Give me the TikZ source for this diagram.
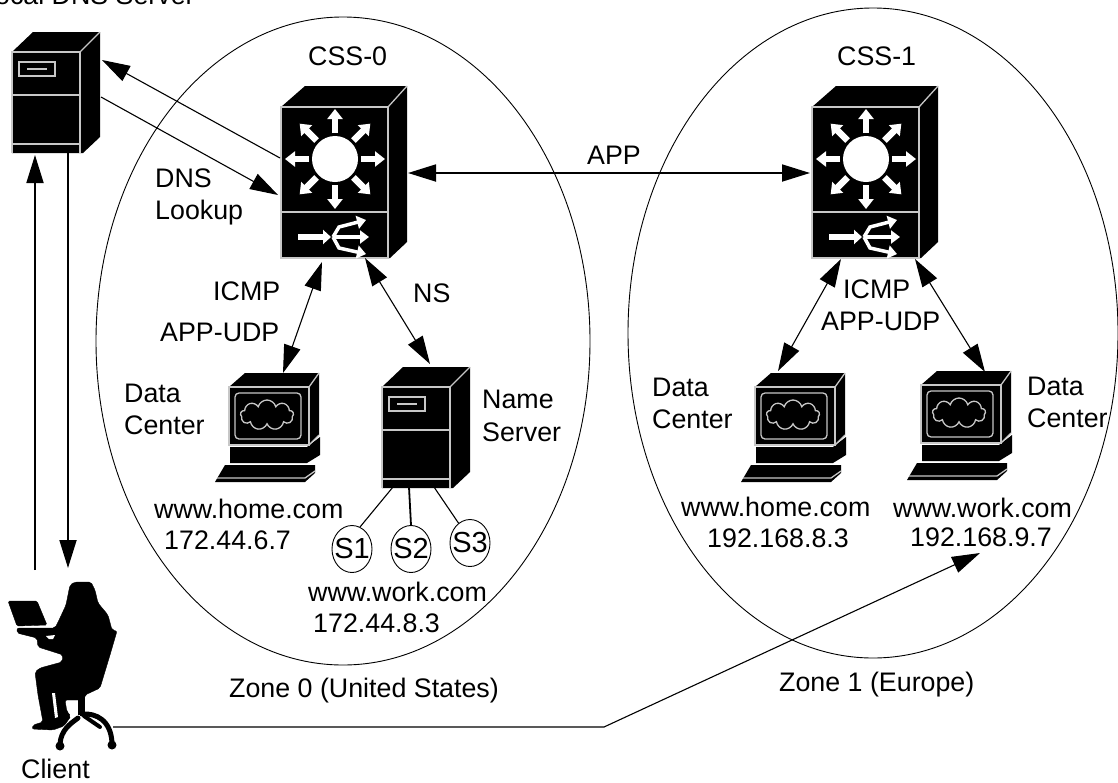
\documentclass[tikz,border=0pt]{standalone}
\usepackage{fontspec}
\setmainfont{Liberation Sans}
\usepackage{tikz}
\usetikzlibrary{arrows.meta}
\usetikzlibrary{shapes.geometric}
\usetikzlibrary{shapes.symbols}
\tikzset{
  lbl/.style={anchor=base west, inner sep=0pt, font=\fontsize{26.8}{30}\selectfont},
  iconline/.style={draw=black!22, line width=1.3pt},
  iconfill/.style={fill=black},
  zone/.style={draw, ellipse, line width=.9pt, inner sep=0pt},
  disk/.style={draw, ellipse, line width=.9pt, inner sep=0pt, minimum width=40pt, minimum height=47pt, font=\fontsize{29}{30}\selectfont},
  bigtip/.tip={Triangle[length=28pt,width=17pt]},
  conn/.style={line width=1.1pt},
  connthick/.style={line width=1.8pt},
  serverpic/.pic={
    \fill [iconfill] (0,0) -- (21,-20) -- (88,-20) -- (88,85) -- (71,101) -- (0,101) -- cycle;
    \draw [iconline] (0,101) -- (0,0) -- (68,0) -- (68,101);
    \draw [iconline] (68,0) -- (88,-20);
    \draw [iconline] (0,43) -- (68,43);
    \draw [iconline] (0,92) -- (68,92);
    \draw [iconline] (7,10) rectangle (43,24);
    \draw [iconline] (15,17) -- (35,17);
  },
  switchpic/.pic={
    \fill [iconfill] (0,0) -- (24,-21) -- (126,-21) -- (126,135) -- (109,151) -- (0,151) -- cycle;
    \draw [iconline] (0,0) rectangle (107,151);
    \draw [iconline] (107,0) -- (126,-21);
    \draw [iconline] (0,105) -- (107,105);
    \fill [white] (54,52) circle [radius=23];
    \foreach \a in {0,45,...,315}
      \draw [white, line width=6.5pt, -{Triangle[length=10pt,width=15pt]}, shift={(54,52)}] (\a:26) -- (\a:50);
    \draw [white, line width=6pt, -{Triangle[length=8pt,width=14pt]}] (17,130) -- (50,130);
    \draw [white, line width=3.5pt, -{Triangle[length=9pt,width=13pt]}] (52,130) -- (58,120) -- (85,113);
    \draw [white, line width=3.5pt, -{Triangle[length=9pt,width=13pt]}] (52,130) -- (88,130);
    \draw [white, line width=3.5pt, -{Triangle[length=9pt,width=13pt]}] (52,130) -- (58,141) -- (85,147);
  },
  pcpic/.pic={
    \fill [iconfill] (0,0) -- (16,-14) -- (90,-14) -- (90,48) -- (80,58) -- (0,58) -- cycle;
    \fill [iconfill] (1,60) -- (78,60) -- (91,50) -- (91,68) -- (78,76) -- (1,76) -- cycle;
    \fill [iconfill] (-14,95) -- (-4,78) -- (86,78) -- (86,86) -- (76,95) -- cycle;
    \draw [iconline] (0,0) rectangle (80,58);
    \draw [iconline] (80,0) -- (90,-14);
    \draw [iconline] (80,58) -- (90,48);
    \draw [iconline, rounded corners=4pt] (6,6) rectangle (72,52);
    \draw [iconline] (-12,91) -- (76,91) -- (86,84);
    \node (puff) [cloud, iconline, cloud puffs=9, aspect=1.8, inner sep=0pt, minimum width=53pt, minimum height=30pt] at (38,28) {};
  }
}
\begin{document}
\begin{tikzpicture}[x=1pt,y=-1pt]
  \useasboundingbox (0,0) rectangle (1118,782);

  \node (zone0) [zone, minimum width=494pt, minimum height=648pt] at (343,341) {};
  \node (zone1) [zone, minimum width=490pt, minimum height=650pt] at (873,333) {};

  \pic at (12,52) {serverpic};
  \pic at (382,387) {serverpic};
  \pic at (281,107) {switchpic};
  \pic at (812,107) {switchpic};
  \pic (pca) at (229,387) {pcpic};
  \pic (pcb) at (755,387) {pcpic};
  \pic (pcc) at (921,385) {pcpic};

  \draw [fill=black, rounded corners=1.5pt] (8,601) -- (37,601) -- (47,625) -- (17,626) -- cycle;
  \draw [fill=black, rounded corners=2pt] (70,585) -- (75,582) -- (91,582) -- (95,590) -- (98,603) -- (108,615) -- (112,630) -- (117,631) -- (110,655) -- (100,688) -- (85,695) -- (84,700) -- (65,700) -- (67,712) -- (71,716) -- (64,726) -- (53,730) -- (32,729) -- (33,725) -- (43,722) -- (38,695) -- (35,672) -- (40,668) -- (62,662) -- (63,655) -- (57,653) -- (38,647) -- (37,638) -- (17,633) -- (17,628) -- (55,628) -- (60,618) -- (66,605) -- cycle;
  \fill [white] (52,693) -- (55,693) -- (58,717) -- (55,718) -- cycle;
  \fill [white] (46,636) -- (55,635) -- (53,639) -- (49,639) -- cycle;
  \fill (78,695) rectangle (85,715);
  \draw [line width=5pt, line cap=round] (78,718) .. controls (70,724) and (61,730) .. (60,744);
  \draw [line width=5pt, line cap=round] (82,714) .. controls (96,713) and (111,720) .. (112,743);
  \draw [line width=4pt, line cap=round] (84,716) -- (100,727);
  \fill (60,746) circle [radius=4.5];
  \fill (112,745) circle [radius=4.5];

  \coordinate (dnsout) at (102,60);
  \coordinate (dnsoutb) at (280,158);
  \coordinate (dnsin) at (278,195);
  \coordinate (dnsinb) at (101,97);
  \coordinate (upa) at (35,570);
  \coordinate (upb) at (35,155);
  \coordinate (downa) at (68,153);
  \coordinate (downb) at (68,568);
  \coordinate (appa) at (408,173);
  \coordinate (appb) at (810,173);
  \coordinate (icmpa) at (322,262);
  \coordinate (icmpb) at (283,373);
  \coordinate (nsa) at (365,258);
  \coordinate (nsb) at (430,364);
  \coordinate (icmpc) at (841,259);
  \coordinate (icmpd) at (778,371);
  \coordinate (icmpe) at (915,259);
  \coordinate (icmpf) at (985,372);
  \coordinate (clienta) at (113,727);
  \coordinate (clientb) at (604,727);
  \coordinate (clientc) at (980,553);
  \coordinate (diska) at (393,487);
  \coordinate (diskb) at (409,487);
  \coordinate (diskc) at (434,487);

  \draw [conn, -bigtip] (dnsoutb) -- (dnsout);
  \draw [conn, -bigtip] (dnsinb) -- (dnsin);
  \draw [connthick, -bigtip] (upa) -- (upb);
  \draw [connthick, -bigtip] (downa) -- (downb);
  \draw [connthick, bigtip-bigtip] (appa) -- (appb);
  \draw [conn, bigtip-bigtip] (icmpa) -- (icmpb);
  \draw [conn, bigtip-bigtip] (nsa) -- (nsb);
  \draw [conn, bigtip-bigtip] (icmpc) -- (icmpd);
  \draw [conn, bigtip-bigtip] (icmpe) -- (icmpf);
  \draw [conn, -bigtip] (clienta) -- (clientb) -- (clientc);

  \node (s1) [disk] at (352,549) {\makebox[0pt]{S1}};
  \node (s2) [disk] at (411,549) {\makebox[0pt]{S2}};
  \node (s3) [disk] at (470,543) {\makebox[0pt]{S3}};
  \draw [conn] (diska) -- (s1.70);
  \draw [connthick] (diskb) -- (s2.north);
  \draw [conn] (diskc) -- (s3.120);

  \node (localdns) [lbl] at (-20,4) {Local DNS Server};
  \node (css0) [lbl] at (308,65) {CSS-0};
  \node (css1) [lbl] at (837,65) {CSS-1};
  \node (app) [lbl] at (587,164) {APP};
  \node (dns) [lbl] at (155,187) {DNS};
  \node (lookup) [lbl] at (155,219) {Lookup};
  \node (icmp0) [lbl] at (213,300) {ICMP};
  \node (udp0) [lbl] at (160,341) {APP-UDP};
  \node (ns) [lbl] at (413,302) {NS};
  \node (data0) [lbl] at (124,402) {Data};
  \node (center0) [lbl] at (124,434) {Center};
  \node (name) [lbl] at (482,408) {Name};
  \node (server) [lbl] at (482,441) {Server};
  \node (home0) [lbl] at (154,518) {www.home.com};
  \node (ip0) [lbl] at (164,549) {172.44.6.7};
  \node (work0) [lbl] at (308,601) {www.work.com};
  \node (ip1) [lbl] at (313,632) {172.44.8.3};
  \node (zonea) [lbl] at (229,697) {Zone 0 (United States)};
  \node (zoneb) [lbl] at (779,691) {Zone 1 (Europe)};
  \node (client) [lbl] at (21,778) {Client};
  \node (icmp1) [lbl] at (843,298) {ICMP};
  \node (udp1) [lbl] at (821,330) {APP-UDP};
  \node (data1) [lbl] at (652,396) {Data};
  \node (center1) [lbl] at (652,428) {Center};
  \node (data2) [lbl] at (1027,395) {Data};
  \node (center2) [lbl] at (1027,427) {Center};
  \node (home1) [lbl] at (681,516) {www.home.com};
  \node (ip2) [lbl] at (707,547) {192.168.8.3};
  \node (work1) [lbl] at (893,517) {www.work.com};
  \node (ip3) [lbl] at (910,546) {192.168.9.7};
\end{tikzpicture}
\end{document}
